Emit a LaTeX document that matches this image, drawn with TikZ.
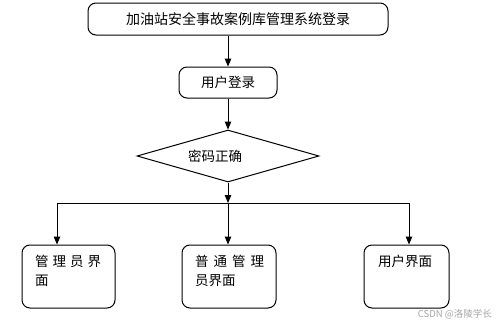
\documentclass[tikz,border=0pt]{standalone}
\usepackage{fontspec}
\setmainfont{Noto Sans CJK SC}
\usetikzlibrary{shapes.geometric,arrows.meta}
\begin{document}
\begin{tikzpicture}[x=1pt,y=-1pt,
  box/.style={draw, rounded corners=8pt, line width=1pt, inner sep=0pt},
  lbl/.style={font=\fontsize{13.5}{19}\selectfont, inner sep=0pt},
  arr/.style={line width=1pt, -{Triangle[length=8pt,width=6.5pt]}},
  wm/.style={font=\fontsize{9.5}{11}\selectfont, text=black!35, inner sep=0pt}]
\useasboundingbox (0,0) rectangle (500,324);
\node[box, lbl, font=\fontsize{14}{19}\selectfont, minimum width=300pt, minimum height=32pt] (title) at (238,19) {加油站安全事故案例库管理系统登录};
\node[box, lbl, minimum width=98pt, minimum height=31pt] (login) at (228,82.5) {用户登录};
\node[draw, diamond, line width=1pt, inner sep=0pt, minimum width=182pt, minimum height=52pt] (d) at (228,156) {};
\node[lbl] (dt) at (215,156) {密码正确};
\node[box, minimum width=93pt, minimum height=63pt] (b1) at (68.5,276.5) {};
\node[box, minimum width=94pt, minimum height=63pt] (b2) at (229,276.5) {};
\node[box, minimum width=85pt, minimum height=63pt] (b3) at (406.5,276.5) {};
\node[lbl, anchor=north west, align=left] (t1) at (35,255) {管\hspace{4pt}理\hspace{4pt}员\hspace{4pt}界\\面};
\node[lbl, anchor=north west, align=left] (t2) at (195,255) {普\hspace{5pt}通\hspace{5pt}管\hspace{5pt}理\\员界面};
\node[lbl, anchor=north west, align=left] (t3) at (378,255) {用户界面};
\node[wm, anchor=east] (w) at (492,314) {CSDN @洛陵学长};
\coordinate (j) at (228,203);
\coordinate (jl) at (57,203);
\coordinate (jr) at (409,203);
\draw[arr] (title.south -| login.north) -- (login.north);
\draw[arr] (login.south) -- (d.north);
\draw[arr] (d.south) -- (j);
\draw[line width=1pt] (jl) -- (jr);
\draw[arr] (jl) -- (jl |- b1.north);
\draw[arr] (j) -- (j |- b2.north);
\draw[arr] (jr) -- (jr |- b3.north);
\end{tikzpicture}
\end{document}
